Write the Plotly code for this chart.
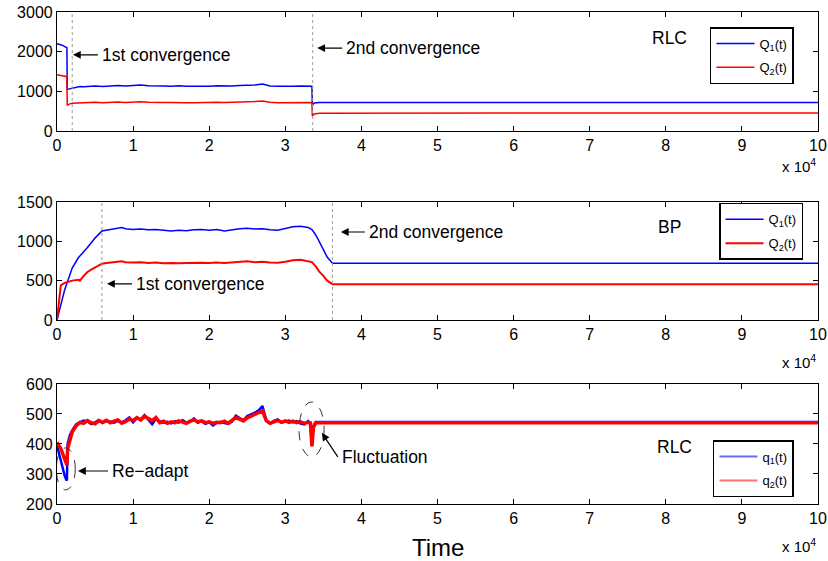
import plotly.graph_objects as go

# ---------------- data ----------------
# Panel 1: RLC, Q1(t), Q2(t)
t_rlc = [0, 300, 600, 900, 1200, 1300, 1350, 1600, 2000, 2500, 3000, 3500, 4000,
         5000, 6000, 7000, 8000, 9000, 10000, 11000, 12000, 13000, 14000, 15000,
         16000, 17000, 18000, 19000, 20000, 21000, 22000, 23000, 24000, 25000,
         26000, 27000, 27500, 28000, 29000, 30000, 31000, 32000, 33000, 33500,
         33550, 33800, 34500, 40000, 50000, 60000, 70000, 78000, 80000, 90000, 100000]
Q1_rlc = [2200, 2190, 2170, 2140, 2115, 2100, 1050, 1060, 1090, 1110, 1120, 1115, 1125,
          1135, 1125, 1140, 1150, 1135, 1145, 1160, 1140, 1130, 1135, 1130,
          1140, 1130, 1125, 1135, 1130, 1140, 1130, 1135, 1145, 1150,
          1160, 1185, 1150, 1135, 1130, 1125, 1130, 1135, 1130, 1130,
          650, 705, 722, 722, 720, 722, 721, 728, 721, 722, 721]
Q2_rlc = [1420, 1410, 1400, 1390, 1380, 1370, 650, 680, 700, 705, 715, 710, 718,
          725, 715, 730, 735, 720, 728, 740, 725, 715, 720, 718,
          725, 715, 712, 720, 715, 725, 718, 722, 730, 735,
          745, 760, 740, 725, 715, 712, 718, 720, 715, 718,
          380, 430, 450, 455, 455, 455, 454, 456, 455, 455, 455]

# Panel 2: BP, Q1(t), Q2(t)
t_bp = [0, 500, 1000, 1500, 2000, 2800, 3000, 3500, 4000, 4500, 5000, 5900, 6500,
        7000, 7500, 8000, 8500, 9000, 10000, 11000, 12000, 13000, 14000, 15000,
        16000, 17000, 18000, 19000, 20000, 21000, 22000, 23000, 24000, 25000,
        26000, 27000, 28000, 29000, 30000, 31000, 32000, 33000, 33500, 34000,
        34500, 35000, 35500, 36200, 40000, 50000, 60000, 70000, 80000, 90000, 100000]
Q1_bp = [0, 200, 380, 520, 660, 790, 810, 860, 920, 980, 1040, 1130, 1140,
         1150, 1160, 1170, 1175, 1160, 1150, 1155, 1145, 1150, 1140, 1130,
         1140, 1135, 1145, 1150, 1140, 1150, 1130, 1145, 1160, 1165,
         1155, 1160, 1145, 1140, 1160, 1185, 1190, 1175, 1150, 1080,
         990, 900, 800, 722, 722, 720, 722, 721, 723, 720, 722]
Q2_bp = [0, 440, 470, 490, 500, 510, 500, 560, 610, 640, 670, 715, 725,
         730, 735, 740, 745, 735, 730, 735, 725, 730, 720, 725,
         720, 725, 730, 728, 725, 730, 725, 730, 740, 745,
         735, 740, 730, 728, 740, 760, 765, 750, 735, 680,
         610, 560, 500, 455, 455, 455, 456, 455, 455, 455, 455]

# Panel 3: RLC, q1(t), q2(t)
t_q = [0, 500, 1000, 1200, 1300, 1400, 1700,
       2000, 2500, 3000, 3500, 4000, 4500, 5000, 5500, 6000, 6500, 7000, 7500,
       8000, 8500, 9000, 9500, 10000, 10500, 11000, 11500, 12000, 12500, 13000,
       13500, 14000, 14500, 15000, 15500, 16000, 16500, 17000, 17500, 18000,
       18500, 19000, 19500, 20000, 20500, 21000, 21500, 22000, 22500, 23000,
       23500, 24000, 24500, 25000, 25500, 26000, 26500, 27000, 27500, 28000,
       28500, 29000, 29500, 30000, 30500, 31000, 31500, 32000, 32500, 33000,
       33300, 33500, 33700, 34000, 34500, 40000, 50000, 54000, 60000, 70000,
       78000, 80000, 90000, 93000, 100000]
q1 = [395, 340, 295, 282, 278, 400, 430,
      445, 465, 472, 478, 475, 466, 472, 480, 470, 477, 474, 471,
      477, 472, 479, 488, 472, 486, 482, 496, 481, 466, 484,
      475, 471, 474, 469, 476, 471, 479, 471, 474, 485,
      471, 476, 467, 472, 462, 471, 474, 470, 467, 475,
      494, 486, 479, 493, 498, 504, 512, 526, 478, 468,
      477, 482, 471, 475, 478, 472, 476, 468, 465, 476,
      466, 395, 460, 473, 473, 473, 473, 473, 473, 473,
      473, 473, 473, 473, 473]
q2 = [405, 385, 350, 335, 330, 385, 415,
      440, 460, 472, 469, 478, 471, 467, 477, 472, 479, 471, 476,
      480, 469, 474, 483, 478, 488, 480, 492, 484, 478, 488,
      471, 476, 469, 474, 471, 477, 472, 469, 476, 480,
      474, 477, 471, 474, 469, 472, 471, 476, 469, 477,
      488, 483, 477, 487, 492, 497, 504, 510, 478, 469,
      474, 479, 472, 477, 472, 476, 471, 474, 469, 472,
      470, 392, 455, 471, 471, 471, 471, 471, 471, 471,
      471, 471, 471, 471, 471]

assert len(t_rlc) == len(Q1_rlc) == len(Q2_rlc)
assert len(t_bp) == len(Q1_bp) == len(Q2_bp)
assert len(t_q) == len(q1) == len(q2)

x_tickvals = [0, 10000, 20000, 30000, 40000, 50000, 60000, 70000, 80000, 90000, 100000]
x_ticktext = ["0", "1", "2", "3", "4", "5", "6", "7", "8", "9", "10"]

BLUE = "#0000ff"
RED = "#ff0000"
FONT = "Liberation Sans, Arial, Helvetica, sans-serif"

fig = go.Figure()
traces = [
    (t_rlc, Q1_rlc, "Q<sub>1</sub>(t)", BLUE, 1.5, "x", "y", "legend", "a1", True),
    (t_rlc, Q2_rlc, "Q<sub>2</sub>(t)", RED, 1.5, "x", "y", "legend", "a2", True),
    (t_bp, Q1_bp, "Q<sub>1</sub>(t)", BLUE, 1.5, "x2", "y2", "legend2", "b1", True),
    (t_bp, Q2_bp, "Q<sub>2</sub>(t)", RED, 2, "x2", "y2", "legend2", "b2", True),
    (t_q, q1, "q<sub>1</sub>(t)", BLUE, 2.5, "x3", "y3", "legend3", "c1", False),
    (t_q, q2, "q<sub>2</sub>(t)", RED, 3.5, "x3", "y3", "legend3", "c2", False),
]
for xs, ys, nm, col, w, xa, ya, lg, grp, sl in traces:
    fig.add_trace(go.Scatter(x=xs, y=ys, mode="lines", name=nm, legendgroup=grp,
                             showlegend=sl, line=dict(color=col, width=w),
                             xaxis=xa, yaxis=ya, legend=lg))
# legend keys for panel 3 (thin, light lines as in the original legend)
for nm, col, grp in [("q<sub>1</sub>(t)", "#6a6aff", "c1"), ("q<sub>2</sub>(t)", "#ff7070", "c2")]:
    fig.add_trace(go.Scatter(x=[None], y=[None], mode="lines", name=nm, legendgroup=grp,
                             line=dict(color=col, width=2), xaxis="x3", yaxis="y3",
                             legend="legend3", hoverinfo="skip"))

axis_common = dict(showline=True, linecolor="black", linewidth=1.2, mirror="ticks",
                   ticks="inside", ticklen=5, tickwidth=1, tickcolor="black",
                   showgrid=False, zeroline=False, automargin=False,
                   tickfont=dict(family=FONT, size=16, color="black"))

xax = dict(axis_common, range=[0, 100000], tickvals=x_tickvals, ticktext=x_ticktext)

legend_common = dict(bgcolor="white", bordercolor="black", borderwidth=1.5,
                     font=dict(family=FONT, size=13, color="black"), itemwidth=38,
                     xanchor="left", yanchor="top", tracegroupgap=4)

fig.update_layout(
    width=828, height=561,
    margin=dict(l=57, r=10, t=12, b=57, autoexpand=False),
    paper_bgcolor="white", plot_bgcolor="white",
    font=dict(family=FONT, color="black"),
    xaxis=dict(xax, domain=[0, 1], anchor="y"),
    yaxis=dict(axis_common, domain=[0.758, 1], range=[0, 3000],
               tickvals=[0, 1000, 2000, 3000], anchor="x"),
    xaxis2=dict(xax, domain=[0, 1], anchor="y2"),
    yaxis2=dict(axis_common, domain=[0.374, 0.614], range=[0, 1500],
                tickvals=[0, 500, 1000, 1500], anchor="x2"),
    xaxis3=dict(xax, domain=[0, 1], anchor="y3"),
    yaxis3=dict(axis_common, domain=[0, 0.244], range=[200, 600],
                tickvals=[200, 300, 400, 500, 600], anchor="x3"),
    legend=dict(legend_common, x=0.858, y=0.9695),
    legend2=dict(legend_common, x=0.870, y=0.612),
    legend3=dict(legend_common, x=0.862, y=0.130),
    showlegend=True,
)

# dotted convergence markers
for xr, yr, xv in [("x", "y", 2000), ("x", "y", 33600), ("x2", "y2", 5900), ("x2", "y2", 36200)]:
    fig.add_shape(type="line", xref=xr, yref=yr + " domain", x0=xv, x1=xv, y0=0, y1=1,
                  line=dict(color="#9a9a9a", width=1, dash="dot"))

# dashed ellipses in panel 3
fig.add_shape(type="circle", xref="x3", yref="y3", x0=-100, x1=2400, y0=247, y1=387,
              line=dict(color="#333333", width=1, dash="dash"))
fig.add_shape(type="circle", xref="x3", yref="y3", x0=31800, x1=35100, y0=357, y1=540,
              line=dict(color="#333333", width=1, dash="dash"))

tfont = dict(family=FONT, size=17.5, color="black")

def arrow_label(xr, yr, x, y, ax, ay, text):
    fig.add_annotation(xref=xr, yref=yr, x=x, y=y, ax=ax, ay=ay, text=text,
                       xanchor="left", yanchor="middle", borderpad=3,
                       showarrow=True, arrowhead=2, arrowsize=1.3, arrowwidth=1.2,
                       arrowcolor="black", font=tfont)

def label(xr, yr, x, y, text):
    fig.add_annotation(xref=xr, yref=yr, x=x, y=y, text=text, showarrow=False,
                       xanchor="center", yanchor="middle", font=tfont)

# panel 1
arrow_label("x", "y", 2100, 1920, 25, 0, "1st convergence")
arrow_label("x", "y", 34200, 2090, 25, 0, "2nd convergence")
label("x", "y", 80500, 2344, "RLC")

# panel 2
arrow_label("x2", "y2", 6570, 460, 25, 0, "1st convergence")
arrow_label("x2", "y2", 37300, 1118, 24, 0, "2nd convergence")
label("x2", "y2", 80500, 1182, "BP")

# panel 3
arrow_label("x3", "y3", 2760, 310, 30, 0, "Re\u2212adapt")
arrow_label("x3", "y3", 34800, 437, 16, 24, "Fluctuation")
label("x3", "y3", 81200, 390, "RLC")

# exponent labels and axis title
efont = dict(family=FONT, size=15, color="black")
for yp in [0.689, 0.289, -0.085]:
    fig.add_annotation(xref="paper", yref="paper", x=1.0, y=yp, text="x 10<sup>4</sup>",
                       showarrow=False, xanchor="right", yanchor="middle", font=efont)
fig.add_annotation(xref="paper", yref="paper", x=0.5, y=-0.089, text="Time",
                   showarrow=False, xanchor="center", yanchor="middle",
                   font=dict(family=FONT, size=24, color="black"))

fig.write_html("out.html", config={"displayModeBar": False},
               post_script="document.body.style.margin='0px';")
